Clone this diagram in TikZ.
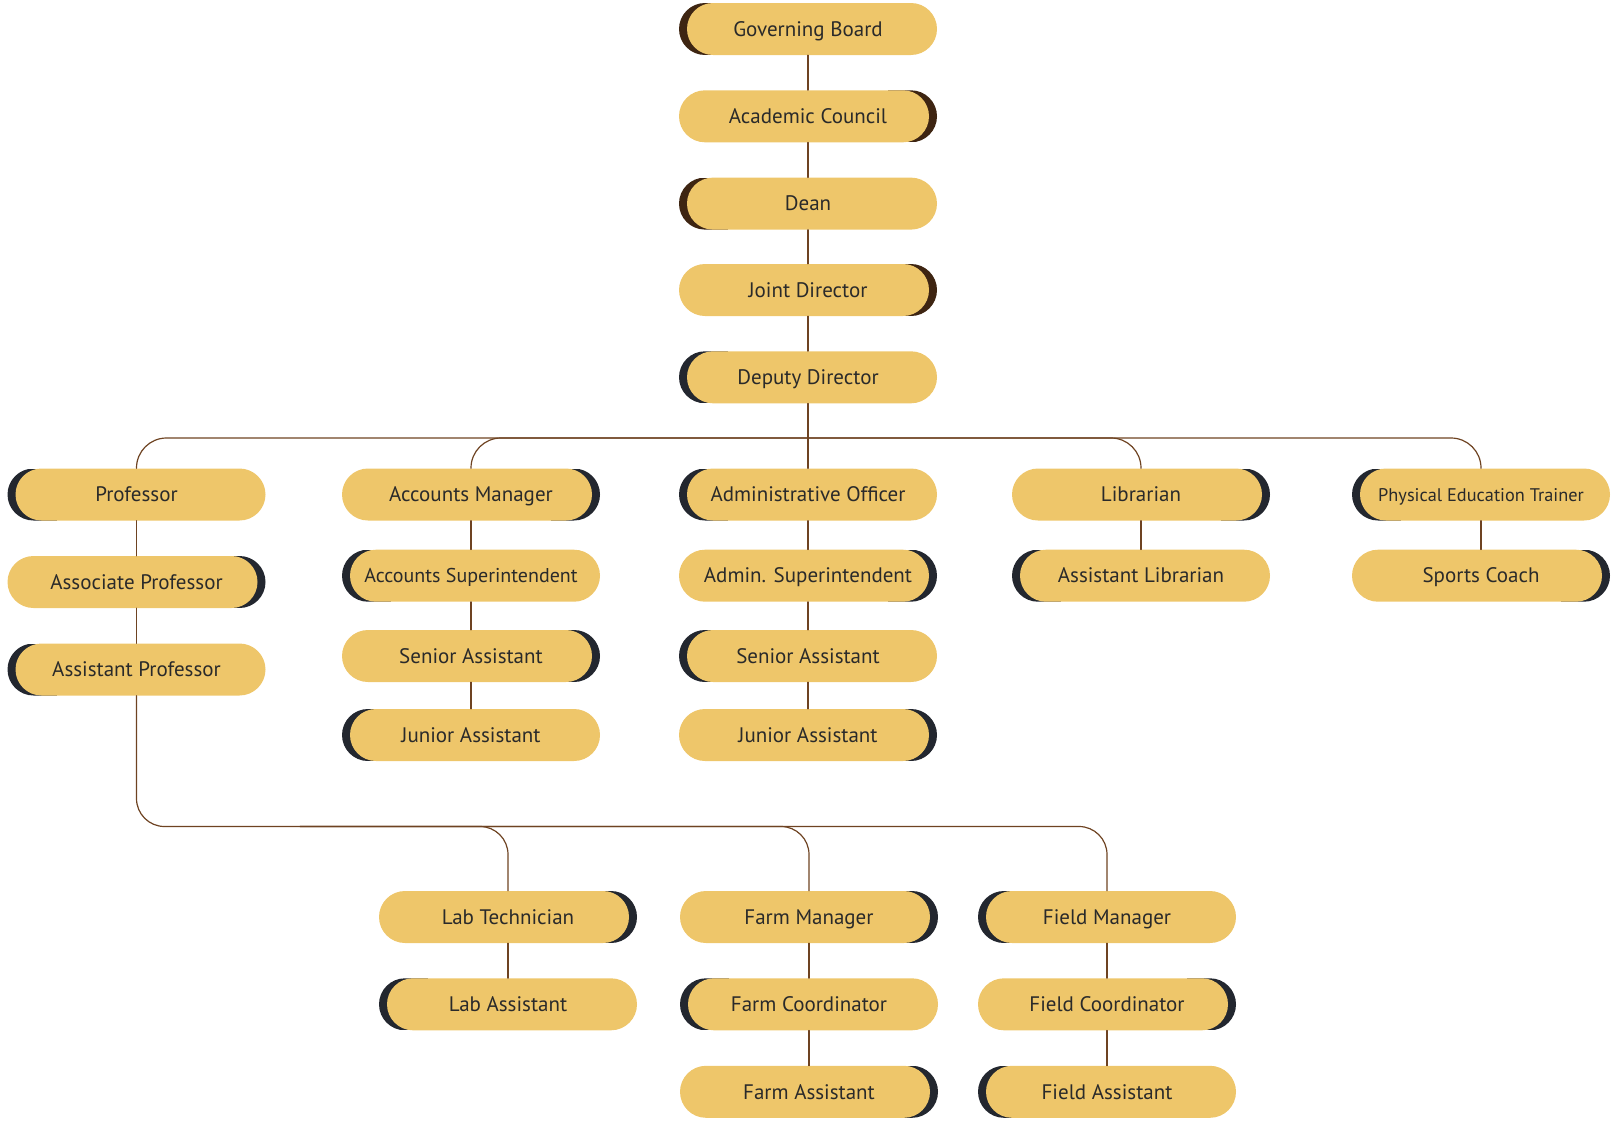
\documentclass[tikz,border=0pt]{standalone}
\usepackage{fontspec}
\setmainfont{PT Sans}
\usetikzlibrary{calc}
\definecolor{pillyellow}{HTML}{EEC66A}
\definecolor{brownd}{HTML}{3E2512}
\definecolor{slated}{HTML}{23272F}
\definecolor{linkc}{HTML}{6E4322}
\definecolor{inkc}{HTML}{2A2A2A}
\newcommand\pillfont{\fontsize{21}{24}\selectfont}
\tikzset{
  pill/.style 2 args={rectangle, rounded corners=26pt, minimum width=258pt, minimum height=52pt,
    inner sep=0pt, text height=14.5pt, text depth=0pt, text=inkc, font=\pillfont,
    path picture={
      \fill[#2, sharp corners] ([xshift={(#1)*80pt}]path picture bounding box.south) rectangle
        ([xshift={(#1)*140pt}]path picture bounding box.north);
      \fill[pillyellow, rounded corners=26pt]
        ([xshift={(1-(#1))*4.5pt-1pt}]path picture bounding box.south west) rectangle
        ([xshift={1pt-(1+(#1))*4.5pt}]path picture bounding box.north east);}},
  link/.style={draw=linkc, line width=1.2pt},
}
\begin{document}
\begin{tikzpicture}[x=1pt, y=-1pt, line cap=round, line join=round]
		\useasboundingbox (0,0) rectangle (1612,1127);
		% top column
		\foreach \nm/\yy/\sd/\txt in {gb/29/-1/Governing Board, ac/116.3/1/Academic Council, dean/203.6/-1/Dean, jd/290/1/Joint Director}
			\node[pill={\sd}{brownd}] (\nm) at (808,\yy) {\txt};
		\node[pill={-1}{slated}] (dd) at (808,377.3) {Deputy Director};
		% second level
		\foreach \nm/\yy/\sd/\txt in {prof/494.5/-1/Professor, assocp/582/1/Associate Professor, asstp/669.5/-1/Assistant Professor}
			\node[pill={\sd}{slated}] (\nm) at (136.5,\yy) {\txt};
		\foreach \nm/\yy/\sd/\txt in {accm/494.5/1/Accounts Manager, accs/575.7/-1/{\fontsize{20}{23}\selectfont Accounts Superintendent}, sa1/656/1/Senior Assistant, ja1/735/-1/Junior Assistant}
			\node[pill={\sd}{slated}] (\nm) at (471,\yy) {\txt};
		\foreach \nm/\yy/\sd/\txt in {ao/494.5/-1/Administrative Officer, adms/575.7/1/Admin. Superintendent, sa2/656/-1/Senior Assistant, ja2/735/1/Junior Assistant}
			\node[pill={\sd}{slated}] (\nm) at (808,\yy) {\txt};
		\foreach \nm/\yy/\sd/\txt in {lib/494.5/1/Librarian, alib/575.7/-1/Assistant Librarian}
			\node[pill={\sd}{slated}] (\nm) at (1141,\yy) {\txt};
		\foreach \nm/\yy/\sd/\txt in {pet/494.5/-1/{\fontsize{18.3}{21}\selectfont Physical Education Trainer}, sc/575.7/1/Sports Coach}
			\node[pill={\sd}{slated}] (\nm) at (1481,\yy) {\txt};
		% lower level
		\foreach \nm/\yy/\sd/\txt in {labt/917/1/Lab Technician, laba/1004.3/-1/Lab Assistant}
			\node[pill={\sd}{slated}] (\nm) at (508,\yy) {\txt};
		\foreach \nm/\yy/\sd/\txt in {fmgr/917/1/Farm Manager, fcoord/1004.3/-1/Farm Coordinator, fasst/1091.8/1/Farm Assistant}
			\node[pill={\sd}{slated}] (\nm) at (809,\yy) {\txt};
		\foreach \nm/\yy/\sd/\txt in {fldm/917/-1/Field Manager, fldc/1004.3/1/Field Coordinator, flda/1091.8/-1/Field Assistant}
			\node[pill={\sd}{slated}] (\nm) at (1107,\yy) {\txt};
		% links
		\foreach \a/\b in {gb/ac, ac/dean, dean/jd, jd/dd, dd/ao, ao/adms, adms/sa2, sa2/ja2, prof/assocp, assocp/asstp,
			accm/accs, accs/sa1, sa1/ja1, lib/alib, pet/sc, labt/laba, fmgr/fcoord, fcoord/fasst, fldm/fldc, fldc/flda}
			\draw[link] (\a) -- (\b);
		\coordinate (busA) at (808,438);
		\foreach \c in {prof, accm, lib, pet}
			\draw[link, rounded corners=30pt] (busA) -| (\c.north);
		\coordinate (busB) at (300,826.5);
		\draw[link, rounded corners=28pt] (asstp) |- (fldm.north |- busB) -- (fldm.north);
		\foreach \c in {labt, fmgr}
			\draw[link, rounded corners=28pt] (busB) -| (\c.north);
		\end{tikzpicture}
\end{document}
